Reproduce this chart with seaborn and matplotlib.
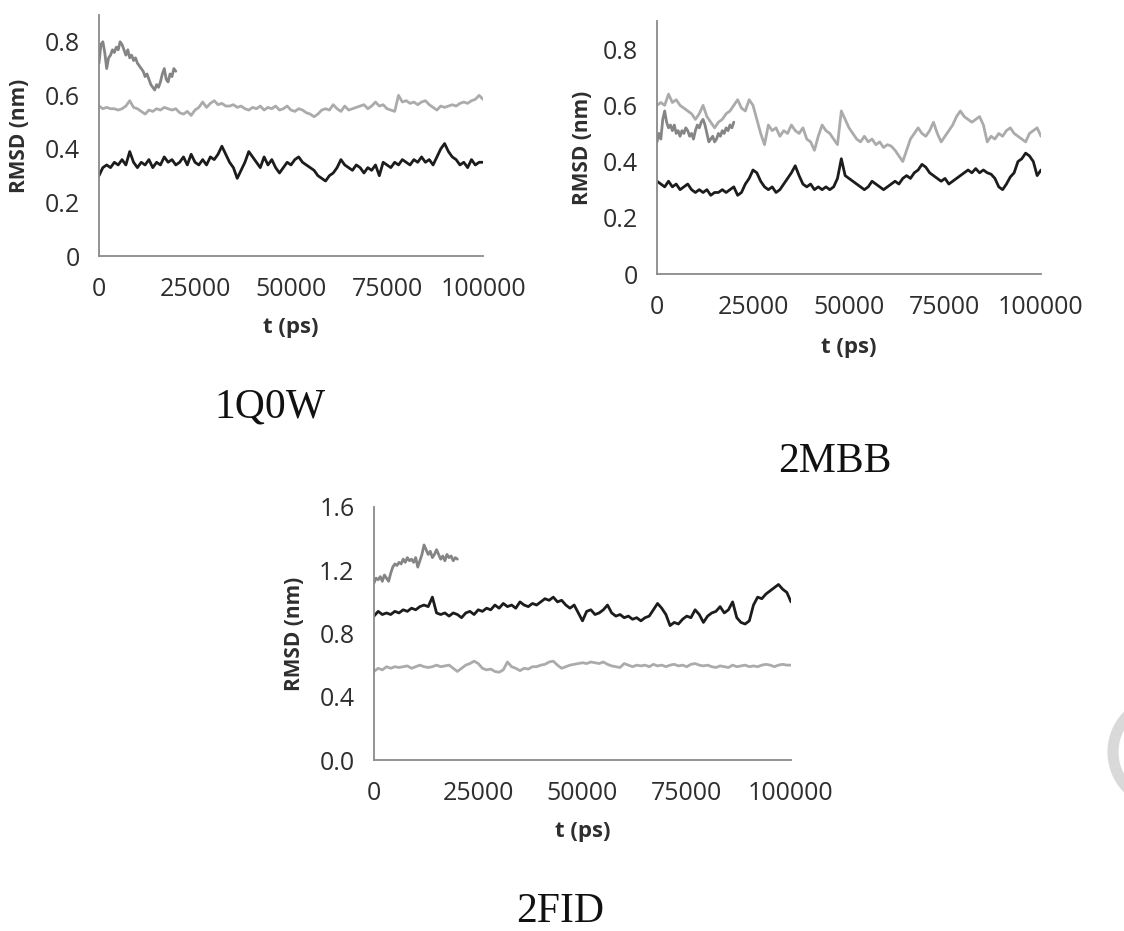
import numpy as np
import pandas as pd
import matplotlib
matplotlib.use("Agg")
import matplotlib.pyplot as plt
from matplotlib.patches import Arc
from matplotlib.transforms import IdentityTransform
import seaborn as sns

# time axes (ps)
t_long = np.arange(0, 100001, 1000)
t_short = np.arange(0, 20001, 500)

# ---- 1Q0W ----
q0w_dark = [0.30, 0.33, 0.34, 0.33, 0.35, 0.34, 0.36, 0.34, 0.39, 0.35,
            0.33, 0.35, 0.34, 0.36, 0.33, 0.35, 0.34, 0.37, 0.35, 0.36,
            0.34, 0.35, 0.37, 0.34, 0.38, 0.35, 0.34, 0.36, 0.34, 0.37,
            0.36, 0.38, 0.41, 0.38, 0.35, 0.33, 0.29, 0.32, 0.35, 0.39,
            0.37, 0.35, 0.33, 0.37, 0.34, 0.36, 0.33, 0.31, 0.33, 0.35,
            0.34, 0.36, 0.37, 0.35, 0.34, 0.33, 0.32, 0.30, 0.29, 0.28,
            0.30, 0.31, 0.33, 0.36, 0.34, 0.33, 0.32, 0.34, 0.33, 0.31,
            0.33, 0.32, 0.34, 0.30, 0.35, 0.34, 0.33, 0.35, 0.34, 0.36,
            0.35, 0.34, 0.36, 0.35, 0.37, 0.35, 0.36, 0.34, 0.37, 0.40,
            0.42, 0.39, 0.37, 0.36, 0.34, 0.35, 0.33, 0.36, 0.34, 0.35,
            0.35]
q0w_light = [0.56, 0.55, 0.555, 0.55, 0.55, 0.545, 0.55, 0.56, 0.58, 0.555,
             0.55, 0.54, 0.53, 0.545, 0.54, 0.55, 0.545, 0.555, 0.55, 0.545,
             0.55, 0.535, 0.53, 0.54, 0.525, 0.545, 0.555, 0.575, 0.555, 0.57,
             0.58, 0.565, 0.57, 0.56, 0.56, 0.565, 0.555, 0.56, 0.55, 0.545,
             0.555, 0.55, 0.56, 0.545, 0.555, 0.55, 0.56, 0.545, 0.55, 0.56,
             0.545, 0.54, 0.55, 0.545, 0.535, 0.53, 0.52, 0.53, 0.545, 0.55,
             0.545, 0.565, 0.55, 0.54, 0.56, 0.545, 0.55, 0.555, 0.56, 0.565,
             0.55, 0.56, 0.575, 0.56, 0.565, 0.55, 0.545, 0.54, 0.60, 0.575,
             0.58, 0.57, 0.575, 0.565, 0.575, 0.58, 0.565, 0.555, 0.545, 0.56,
             0.555, 0.56, 0.565, 0.56, 0.57, 0.575, 0.57, 0.58, 0.585, 0.60,
             0.585]
q0w_short = [0.72, 0.79, 0.80, 0.76, 0.70, 0.74, 0.75, 0.77, 0.76, 0.78,
             0.77, 0.80, 0.79, 0.77, 0.75, 0.77, 0.74, 0.75, 0.73, 0.74,
             0.72, 0.71, 0.70, 0.69, 0.67, 0.68, 0.66, 0.64, 0.63, 0.62,
             0.64, 0.63, 0.65, 0.68, 0.70, 0.66, 0.65, 0.68, 0.67, 0.70,
             0.69]

# ---- 2MBB ----
mbb_dark = [0.33, 0.32, 0.31, 0.33, 0.31, 0.32, 0.30, 0.31, 0.32, 0.30,
            0.29, 0.30, 0.29, 0.30, 0.28, 0.29, 0.29, 0.30, 0.29, 0.30,
            0.31, 0.28, 0.29, 0.32, 0.34, 0.37, 0.36, 0.33, 0.31, 0.30,
            0.31, 0.29, 0.30, 0.32, 0.34, 0.36, 0.385, 0.35, 0.32, 0.31,
            0.32, 0.30, 0.31, 0.30, 0.31, 0.30, 0.31, 0.34, 0.41, 0.35,
            0.34, 0.33, 0.32, 0.31, 0.30, 0.31, 0.33, 0.32, 0.31, 0.30,
            0.31, 0.32, 0.33, 0.32, 0.34, 0.35, 0.34, 0.36, 0.37, 0.39,
            0.38, 0.36, 0.35, 0.34, 0.33, 0.34, 0.32, 0.33, 0.34, 0.35,
            0.36, 0.37, 0.36, 0.375, 0.36, 0.37, 0.36, 0.355, 0.34, 0.31,
            0.30, 0.32, 0.345, 0.36, 0.40, 0.41, 0.43, 0.42, 0.40, 0.35,
            0.37]
mbb_light = [0.60, 0.61, 0.60, 0.64, 0.61, 0.62, 0.60, 0.59, 0.58, 0.57,
             0.55, 0.57, 0.60, 0.56, 0.54, 0.52, 0.54, 0.55, 0.57, 0.58,
             0.60, 0.62, 0.59, 0.58, 0.62, 0.60, 0.55, 0.50, 0.46, 0.53,
             0.51, 0.52, 0.49, 0.51, 0.50, 0.53, 0.51, 0.50, 0.52, 0.48,
             0.47, 0.44, 0.49, 0.53, 0.51, 0.50, 0.48, 0.46, 0.58, 0.55,
             0.52, 0.50, 0.48, 0.47, 0.49, 0.47, 0.48, 0.46, 0.47, 0.45,
             0.46, 0.455, 0.44, 0.42, 0.40, 0.44, 0.48, 0.50, 0.52, 0.50,
             0.49, 0.51, 0.54, 0.50, 0.47, 0.49, 0.51, 0.53, 0.56, 0.58,
             0.56, 0.55, 0.54, 0.55, 0.56, 0.53, 0.47, 0.49, 0.48, 0.50,
             0.49, 0.51, 0.52, 0.50, 0.49, 0.48, 0.47, 0.50, 0.51, 0.52,
             0.49]
mbb_short = [0.47, 0.50, 0.48, 0.55, 0.58, 0.54, 0.52, 0.53, 0.51, 0.53,
             0.50, 0.51, 0.49, 0.51, 0.50, 0.52, 0.51, 0.49, 0.50, 0.48,
             0.51, 0.53, 0.52, 0.54, 0.55, 0.53, 0.50, 0.47, 0.48, 0.49,
             0.47, 0.48, 0.50, 0.49, 0.51, 0.50, 0.52, 0.51, 0.53, 0.52,
             0.54]

# ---- 2FID ----
fid_dark = [0.91, 0.94, 0.92, 0.93, 0.92, 0.94, 0.93, 0.95, 0.94, 0.96,
            0.95, 0.97, 0.98, 0.97, 1.03, 0.93, 0.92, 0.93, 0.91, 0.93,
            0.92, 0.90, 0.93, 0.94, 0.92, 0.95, 0.94, 0.96, 0.95, 0.98,
            0.96, 0.99, 0.97, 0.98, 0.96, 1.00, 0.98, 0.97, 0.99, 0.98,
            1.00, 1.02, 1.01, 1.03, 1.00, 1.01, 0.98, 0.96, 0.98, 0.93,
            0.88, 0.94, 0.95, 0.92, 0.93, 0.95, 0.98, 0.93, 0.91, 0.92,
            0.90, 0.91, 0.89, 0.90, 0.88, 0.90, 0.91, 0.95, 0.99, 0.96,
            0.92, 0.85, 0.87, 0.86, 0.89, 0.91, 0.90, 0.95, 0.92, 0.87,
            0.91, 0.93, 0.94, 0.97, 0.93, 0.95, 1.00, 0.90, 0.87, 0.86,
            0.88, 0.98, 1.03, 1.02, 1.05, 1.07, 1.09, 1.11, 1.08, 1.06,
            1.00]
fid_light = [0.56, 0.58, 0.57, 0.59, 0.58, 0.59, 0.585, 0.59, 0.595, 0.58,
             0.59, 0.60, 0.59, 0.585, 0.59, 0.60, 0.59, 0.595, 0.60, 0.58,
             0.56, 0.58, 0.60, 0.61, 0.625, 0.61, 0.58, 0.57, 0.575, 0.56,
             0.555, 0.57, 0.62, 0.59, 0.58, 0.565, 0.58, 0.575, 0.59, 0.59,
             0.60, 0.605, 0.62, 0.625, 0.60, 0.58, 0.59, 0.60, 0.605, 0.61,
             0.615, 0.61, 0.62, 0.615, 0.61, 0.62, 0.605, 0.595, 0.59, 0.585,
             0.61, 0.60, 0.59, 0.60, 0.595, 0.60, 0.59, 0.605, 0.595, 0.60,
             0.59, 0.60, 0.605, 0.595, 0.60, 0.59, 0.605, 0.61, 0.60, 0.595,
             0.60, 0.59, 0.585, 0.595, 0.59, 0.585, 0.60, 0.59, 0.595, 0.60,
             0.59, 0.595, 0.59, 0.60, 0.605, 0.60, 0.59, 0.60, 0.605, 0.60,
             0.60]
fid_short = [1.12, 1.15, 1.14, 1.16, 1.13, 1.17, 1.15, 1.13, 1.18, 1.22,
             1.24, 1.23, 1.25, 1.24, 1.27, 1.25, 1.28, 1.26, 1.27, 1.25,
             1.28, 1.22, 1.26, 1.30, 1.36, 1.33, 1.30, 1.32, 1.28, 1.30,
             1.33, 1.30, 1.27, 1.29, 1.26, 1.30, 1.28, 1.29, 1.26, 1.28,
             1.27]

x_ticks = [0, 25000, 50000, 75000, 100000]
x_ticklabels = ["0", "25000", "50000", "75000", "100000"]
y_ticks_a = [0, 0.2, 0.4, 0.6, 0.8]
y_ticklabels_a = ["0", "0.2", "0.4", "0.6", "0.8"]
y_ticks_b = [0, 0.4, 0.8, 1.2, 1.6]
y_ticklabels_b = ["0.0", "0.4", "0.8", "1.2", "1.6"]

C_DARK = "#1c1c1c"
C_LIGHT = "#ababab"
C_MID = "#858585"
C_AXIS = "#8a8a8a"
C_TEXT = "#2e2e2e"

sns.set_theme(style="white")
plt.rcParams["font.family"] = ["Open Sans", "DejaVu Sans"]

fig = plt.figure(figsize=(11.24, 9.31), dpi=100)
W, H = 1124, 931


def px_axes(left, top, right, bottom):
    return fig.add_axes([left / W, 1 - bottom / H, (right - left) / W, (bottom - top) / H])


def draw_panel(ax, dark, light, short, ylim, yticks, yticklabels):
    df_long = pd.DataFrame({"t": t_long, "dark": dark, "light": light})
    df_short = pd.DataFrame({"t": t_short, "short": short})
    sns.lineplot(data=df_long, x="t", y="light", ax=ax, color=C_LIGHT,
                 linewidth=2.0, estimator=None)
    sns.lineplot(data=df_long, x="t", y="dark", ax=ax, color=C_DARK,
                 linewidth=2.0, estimator=None)
    sns.lineplot(data=df_short, x="t", y="short", ax=ax, color=C_MID,
                 linewidth=2.0, estimator=None)
    ax.set_xlim(0, 100000)
    ax.set_ylim(*ylim)
    ax.set_xticks(x_ticks)
    ax.set_xticklabels(x_ticklabels)
    ax.set_yticks(yticks)
    ax.set_yticklabels(yticklabels)
    for side in ("top", "right"):
        ax.spines[side].set_visible(False)
    for side in ("left", "bottom"):
        ax.spines[side].set_color(C_AXIS)
        ax.spines[side].set_linewidth(1.3)
    ax.tick_params(axis="both", which="major", direction="out", length=7,
                   width=1.3, color=C_AXIS, labelcolor=C_TEXT, labelsize=18)
    ax.tick_params(axis="x", pad=8)
    ax.tick_params(axis="y", pad=7)
    ax.set_xlabel("t (ps)", fontsize=16, fontweight="bold", color=C_TEXT)
    ax.set_ylabel("RMSD (nm)", fontsize=15, fontweight="bold", color=C_TEXT)
    ax.grid(False)


ax1 = px_axes(99, 15, 483, 256)
draw_panel(ax1, q0w_dark, q0w_light, q0w_short, (0, 0.9), y_ticks_a, y_ticklabels_a)
ax2 = px_axes(657, 21, 1041, 274)
draw_panel(ax2, mbb_dark, mbb_light, mbb_short, (0, 0.9), y_ticks_a, y_ticklabels_a)
ax3 = px_axes(374, 507, 791, 760)
draw_panel(ax3, fid_dark, fid_light, fid_short, (0, 1.6), y_ticks_b, y_ticklabels_b)


# axis label placement (pixel positions converted to axes fractions)
def place_labels(ax, left, top, right, bottom, xlab_y, ylab_x):
    ax.xaxis.set_label_coords(0.5, -(xlab_y - bottom) / (bottom - top))
    ax.yaxis.set_label_coords(-(left - ylab_x) / (right - left), 0.5)


place_labels(ax1, 99, 15, 483, 256, 327, 20)
place_labels(ax2, 657, 21, 1041, 274, 347, 582)
place_labels(ax3, 374, 507, 791, 760, 831, 295)
for ax in (ax1, ax2, ax3):
    ax.xaxis.label.set_verticalalignment("center")
    ax.yaxis.label.set_verticalalignment("center")

# structure names
title_kw = dict(family="Liberation Serif", fontsize=30, color="#111111",
                ha="center", va="center")
fig.text(270 / W, 1 - 407 / H, "1Q0W", **title_kw)
fig.text(835 / W, 1 - 462 / H, "2MBB", **title_kw)
fig.text(560 / W, 1 - 912 / H, "2FID", **title_kw)

# partial logo ring at the right edge
fig.add_artist(Arc((1165, H - 752), 104, 104, theta1=95, theta2=265,
                   transform=IdentityTransform(), color="#d9d9d9", lw=8))

fig.savefig("out.png", dpi=100)
